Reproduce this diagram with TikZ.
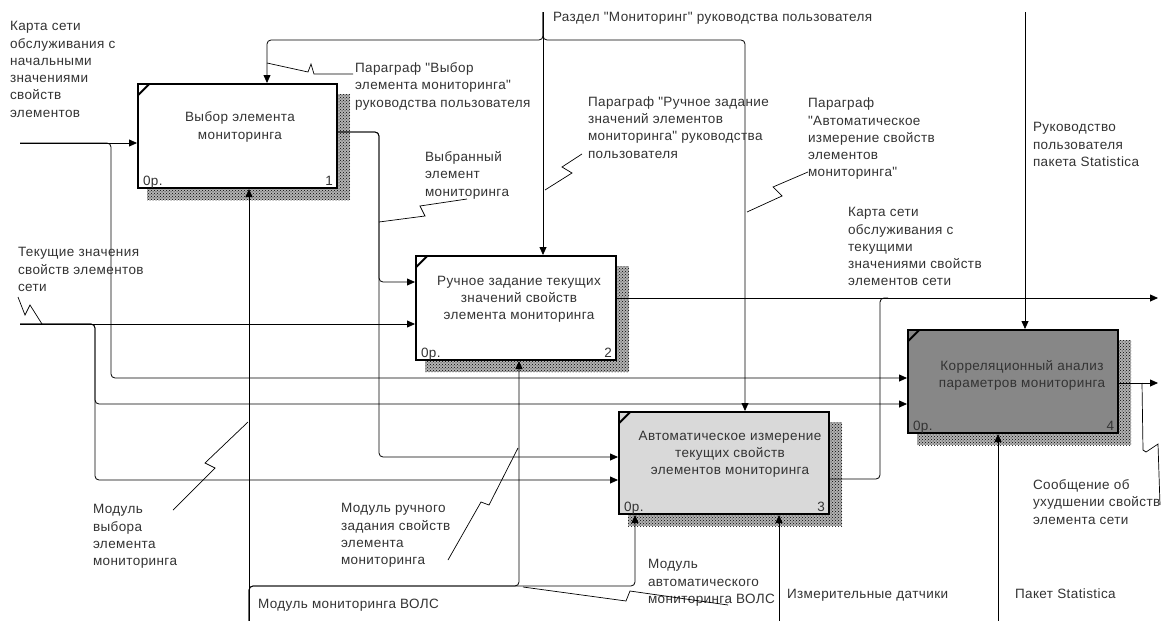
\documentclass[tikz,border=0pt]{standalone}
\usepackage{fontspec}
\setmainfont{Liberation Sans}
\newfontfamily\lblfont{Liberation Sans}[LetterSpace=3]
\usetikzlibrary{arrows.meta,patterns}
\pgfdeclarelayer{bg}
\pgfsetlayers{bg,main}

\tikzset{
  every node/.style={inner sep=0pt, outer sep=0pt},
  txt/.style={font=\lblfont\fontsize{13.5}{17.3}\selectfont, text=black!80, align=left, anchor=north west},
  boxtxt/.style={font=\lblfont\fontsize{13.5}{17.3}\selectfont, text=black!80, align=center, anchor=north},
  num/.style={font=\lblfont\fontsize{13.5}{16}\selectfont, text=black!80},
  func/.style={draw=black, line width=2.4pt, outer sep=1.2pt, anchor=north west},
  shadebase/.style={fill=black!30},
  shade/.style={pattern=crosshatch dots, pattern color=black},
  arr/.style={line width=0.8pt, -{Triangle[length=8pt,width=7pt]}},
  wire/.style={line width=0.8pt},
  rc/.style={rounded corners=4pt},
  leader/.style={line width=0.7pt},
  corner/.style={line width=2pt},
}

\begin{document}
\begin{tikzpicture}[x=1pt,y=-1pt]
\useasboundingbox (0,0) rectangle (1171,621);

% ---- activity boxes ----
\node[func, fill=white, minimum width=198.6pt, minimum height=103.6pt] (b1) at (137,83) {};
\node[func, fill=white, minimum width=199.6pt, minimum height=103.6pt] (b2) at (415,255) {};
\node[func, fill=black!15, minimum width=209.6pt, minimum height=101.6pt] (b3) at (618,411) {};
\node[func, fill=black!47, minimum width=209.6pt, minimum height=102.6pt] (b4) at (907,329) {};

% white sheet and hatched drop shadows underneath everything
\begin{pgfonlayer}{bg}
  \fill[white] (0,0) rectangle (1171,621);
  \foreach \b in {b1,b2,b3,b4}{
    \fill[shadebase] ([xshift=10pt,yshift=-11pt]\b.north west) rectangle ([xshift=12pt,yshift=-11pt]\b.south east);
    \fill[shade] ([xshift=10pt,yshift=-11pt]\b.north west) rectangle ([xshift=12pt,yshift=-11pt]\b.south east);
  }
\end{pgfonlayer}

% corner marks
\foreach \b in {b1,b2,b3,b4}
  \draw[corner] ([xshift=1.2pt,yshift=-12pt]\b.north west) -- ([xshift=12pt,yshift=-1.2pt]\b.north west);

% box titles
\node[boxtxt] (t1) at (240,112) {Выбор элемента\\мониторинга};
\node[boxtxt] (t2) at (519,276) {Ручное задание текущих\\значений свойств\\элемента мониторинга};
\node[boxtxt] (t3) at (730,431) {Автоматическое измерение\\текущих свойств\\элементов мониторинга};
\node[boxtxt] (t4) at (1022,360) {Корреляционный анализ\\параметров мониторинга};

% box footers
\foreach \b/\n in {b1/1,b2/2,b3/3,b4/4}{
  \node[num, anchor=base west] (\b z) at ([xshift=6pt,yshift=4pt]\b.south west) {0р.};
  \node[num, anchor=base east] (\b n) at ([xshift=-5pt,yshift=4pt]\b.south east) {\n};
}

% ---- inputs ----
\coordinate (in1) at (20,143);
\coordinate (j1) at (111,378);
\draw[arr] (in1) -- (in1 -| b1.west);
\draw[arr,rc] (in1) -| (j1) -- (j1 -| b4.west);

\coordinate (in2) at (20,324);
\coordinate (j2a) at (95,404);
\coordinate (j2b) at (95,480);
\draw[arr] (in2) -- (in2 -| b2.west);
\draw[arr,rc] (in2) -| (j2a) -- (j2a -| b4.west);
\draw[arr,rc] (in2) -| (j2b) -- (j2b -| b3.west);

% output of box 1 feeding boxes 2 and 3
\coordinate (k1) at (379,132);
\coordinate (k1a) at (379,282);
\coordinate (k1b) at (379,457);
\draw[arr,rc] (k1 -| b1.east) -| (k1a) -- (k1a -| b2.west);
\draw[arr,rc] (k1 -| b1.east) -| (k1b) -- (k1b -| b3.west);

% ---- controls ----
\coordinate (c2top) at (543,12);
\coordinate (c1x) at (267,40);
\coordinate (c3x) at (745,40);
\draw[arr] (c2top) -- (c2top |- b2.north);
\draw[arr,rc] (c2top) |- (c1x) -- (c1x |- b1.north);
\draw[arr,rc] (c2top) |- (c3x) -- (c3x |- b3.north);
\coordinate (c4top) at (1025,12);
\draw[arr] (c4top) -- (c4top |- b4.north);

% ---- outputs ----
\coordinate (o2) at (1158,298);
\draw[arr] (o2 -| b2.east) -- (o2);
\coordinate (k3) at (880,479);
\coordinate (k3t) at (880,298);
\draw[wire,rc] (k3 -| b3.east) -| (k3t) -- ++(8,0);
\coordinate (o4) at (1158,383);
\draw[arr] (o4 -| b4.east) -- (o4);

% ---- mechanisms ----
\coordinate (m1) at (249,621);
\coordinate (bus2) at (519,586);
\coordinate (bus3) at (635,586);
\draw[arr] (m1) -- (m1 |- b1.south);
\draw[arr,rc] (m1) |- (bus2) -- (bus2 |- b2.south);
\draw[arr,rc] (m1) |- (bus3) -- (bus3 |- b3.south);
\coordinate (m3) at (779,621);
\draw[arr] (m3) -- (m3 |- b3.south);
\coordinate (m4) at (998,621);
\draw[arr] (m4) -- (m4 |- b4.south);

% ---- labels ----
\node[txt] (l1) at (10,21.5) {Карта сети\\обслуживания с\\начальными\\значениями\\свойств\\элементов};
\node[txt] (l2) at (18,247.5) {Текущие значения\\свойств элементов\\сети};
\node[txt] (l3) at (355,62.5) {Параграф "Выбор\\элемента мониторинга"\\руководства пользователя};
\node[txt] (l4) at (553,12.5) {Раздел "Мониторинг" руководства пользователя};
\node[txt] (l5) at (425,151.5) {Выбранный\\элемент\\мониторинга};
\node[txt] (l6) at (588,96.5) {Параграф "Ручное задание\\значений элементов\\мониторинга" руководства\\пользователя};
\node[txt] (l7) at (808,98) {Параграф\\"Автоматическое\\измерение свойств\\элементов\\мониторинга"};
\node[txt] (l8) at (848,207.5) {Карта сети\\обслуживания с\\текущими\\значениями свойств\\элементов сети};
\node[txt] (l9) at (1033,122.5) {Руководство\\пользователя\\пакета Statistica};
\node[txt] (l10) at (1033,479.5) {Сообщение об\\ухудшении свойств\\элемента сети};
\node[txt] (l11) at (93,504.5) {Модуль\\выбора\\элемента\\мониторинга};
\node[txt] (l12) at (341,503.5) {Модуль ручного\\задания свойств\\элемента\\мониторинга};
\node[txt] (l13) at (258,599.5) {Модуль мониторинга ВОЛС};
\node[txt] (l14) at (648,559.5) {Модуль\\автоматического\\мониторинга ВОЛС};
\node[txt] (l15) at (787,589.5) {Измерительные датчики};
\node[txt] (l16) at (1015,588.5) {Пакет Statistica};

% ---- label leaders ----
\draw[leader] (267,63) -- (308,72) -- (311,64) -- (314,74) -- (353,74);
\draw[leader] (379,222) -- (425,216) -- (420,206) -- (467,199);
\draw[leader] (18,297) -- (25,315) -- (30,305) -- (42,324);
\draw[leader] (545,190) -- (572,173) -- (562,167) -- (582,154);
\draw[leader] (747,212) -- (782,196) -- (773,187) -- (808,172);
\draw[leader] (1142,383) -- (1143,450) -- (1146,452) -- (1158,444) -- (1160,505);
\draw[leader] (248,422) -- (205,463) -- (215,468) -- (173,510);
\draw[leader] (518,448) -- (489,505) -- (481,502) -- (448,560);
\draw[leader] (523,587) -- (626,601) -- (630,591) -- (728,605);
\end{tikzpicture}
\end{document}
